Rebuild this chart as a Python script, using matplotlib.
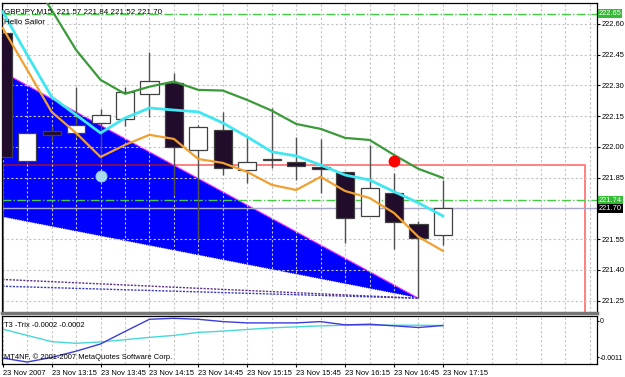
import numpy as np
import matplotlib
matplotlib.use("Agg")
import matplotlib.pyplot as plt
from matplotlib import transforms

plt.rcParams['font.family'] = ['Liberation Sans', 'DejaVu Sans']

# ===== data =====
bars = np.arange(19)
opens  = [222.556, 221.929, 222.080, 222.070, 222.118, 222.136, 222.256, 222.312, 221.985, 222.083,
          221.888, 221.938, 221.927, 221.900, 221.880, 221.665, 221.777, 221.624, 221.57]
highs  = [222.556, 222.075, 222.100, 222.294, 222.185, 222.294, 222.462, 222.360, 222.107, 222.172,
          222.042, 222.190, 222.050, 222.037, 221.880, 222.010, 221.872, 221.640, 221.84]
lows   = [221.950, 221.920, 222.030, 222.050, 221.920, 222.100, 222.148, 221.766, 221.546, 221.863,
          221.826, 221.896, 221.839, 221.774, 221.533, 221.665, 221.500, 221.262, 221.52]
closes = [221.950, 222.067, 222.056, 222.107, 222.156, 222.270, 222.320, 221.998, 222.096, 221.896,
          221.927, 221.942, 221.907, 221.890, 221.652, 221.798, 221.636, 221.555, 221.70]

ma_green  = [223.010, 222.854, 222.668, 222.473, 222.327, 222.259, 222.294, 222.319, 222.278, 222.275,
             222.229, 222.177, 222.112, 222.088, 222.044, 222.034, 221.961, 221.893, 221.849]
ma_cyan   = [222.659, 222.449, 222.244, 222.156, 222.068, 222.141, 222.190, 222.180, 222.171, 222.117,
             222.049, 221.976, 221.956, 221.912, 221.863, 221.839, 221.782, 221.727, 221.663]
ma_orange = [222.580, 222.376, 222.171, 222.068, 221.951, 222.010, 222.059, 222.039, 221.941, 221.922,
             221.878, 221.815, 221.790, 221.854, 221.785, 221.751, 221.678, 221.561, 221.493]

# triangle object (left anchors are off-chart at bar -1)
tri_x = [-1, 17, -1]
tri_p = [222.430, 221.262, 221.681]
# two dotted trend lines to the apex
trend1_p = [221.359, 221.262]
trend2_p = [221.324, 221.262]
trend_x = [-1, 17]

rect_x = [0, 23.82]
rect_top = 221.91
rect_bottom = 221.0

red_dot = (16, 221.932)
blue_dot = (4, 221.858)

level_hi = 222.65
level_lo = 221.74
bid = 221.70

t3_blue = [-0.00113, -0.00125, -0.00111, -0.00092, -0.00070, -0.00032, 0.00005, 0.00008, 0.00005, -0.00002,
           -0.00006, -0.00006, -0.00006, -0.00002, -0.00012, -0.00010, -0.00015, -0.00020, -0.00014]
t3_cyan = [-0.00025, -0.00044, -0.00063, -0.00068, -0.00064, -0.00057, -0.00050, -0.00044, -0.00035, -0.00031,
           -0.00026, -0.00021, -0.00018, -0.00015, -0.00013, -0.00013, -0.00013, -0.00013, -0.00014]

price_ticks = [221.25, 221.40, 221.55, 221.70, 221.85, 222.00, 222.15, 222.30, 222.45, 222.60]
time_labels = ['23 Nov 2007', '23 Nov 13:15', '23 Nov 13:45', '23 Nov 14:15', '23 Nov 14:45',
               '23 Nov 15:15', '23 Nov 15:45', '23 Nov 16:15', '23 Nov 16:45', '23 Nov 17:15']

# ===== figure =====
fig = plt.figure(figsize=(6.25, 3.77), dpi=100)
ax = fig.add_axes([2/625, 1 - 313/377, 595/625, 310/377])
sub = fig.add_axes([2/625, 1 - 364/377, 595/625, 48/377])

xlim = (-0.03, 24.3)
fs = 5.4

ax.set_xlim(*xlim)
ax.set_ylim(221.19, 222.702)
ax.set_axisbelow('line')
ax.set_xticks(np.arange(0, 25))
ax.set_yticks(price_ticks)
ax.yaxis.tick_right()
ax.set_yticklabels(['%.2f' % v if abs(v - bid) > 1e-6 else '' for v in price_ticks], fontsize=fs)
ax.tick_params(axis='x', length=0, labelbottom=False)
ax.tick_params(axis='y', length=2.5, width=0.8, pad=1, direction='out')
ax.grid(True, color='#c4c4c4', linestyle=(0, (2, 2)), linewidth=0.8)
for s in ax.spines.values():
    s.set_color('black')
    s.set_linewidth(0.9)
ax.spines['bottom'].set_color('#777777')
ax.spines['bottom'].set_linewidth(2.5)

# triangle + trend lines
tri = ax.fill(tri_x, tri_p, color='#0000ff', zorder=1, lw=0)[0]
ax.plot(tri_x[:2], tri_p[:2], color='#ff33ff', lw=0.8, zorder=1.2)
ax.plot(tri_x[1:], tri_p[1:], color='white', lw=0.8, ls=(0, (1, 1)), zorder=1.2)
ax.plot(trend_x, trend1_p, color='#5a2d8a', lw=1, ls=(0, (1.5, 1)), zorder=1.6)
ax.plot(trend_x, trend2_p, color='#3535c8', lw=1, ls=(0, (1.5, 1)), zorder=1.6)

# rectangle (darker where it crosses the blue object)
ax.plot([rect_x[0], rect_x[1], rect_x[1]], [rect_top, rect_top, rect_bottom], color='#ff8080', lw=1.4, zorder=0.9)
dark = ax.plot(rect_x, [rect_top, rect_top], color='#7a1060', lw=1.4, zorder=1.1)[0]
dark.set_clip_path(tri)
ax.plot([rect_x[0], rect_x[0]], [rect_top, rect_bottom], color='#e02020', lw=1.2, zorder=1.7)

# horizontal levels
ax.axhline(level_hi, color='#44cc44', lw=1, ls='-.', zorder=1.8)
ax.axhline(level_lo, color='#44cc44', lw=1, ls='-.', zorder=1.8)
ax.axhline(bid, color='#a8a8c8', lw=1, zorder=1.8)

# candles
for x, o, h, l, c in zip(bars, opens, highs, lows, closes):
    ax.vlines(x, l, h, color='#505050', lw=1, zorder=2.5)
    fill = 'white' if c >= o else '#220c2c'
    ax.bar(x, max(abs(c - o), 0.003), bottom=min(o, c), width=0.74, color=fill,
           edgecolor='#404040', linewidth=0.9, zorder=3)

# moving averages
ax.plot(bars, ma_green, color='#3a9a3a', lw=1.6, zorder=4)
ax.plot(bars, ma_cyan, color='#40e6f0', lw=2, zorder=4)
ax.plot(bars, ma_orange, color='#f0a030', lw=1.6, zorder=4)

# dots
ax.plot(*red_dot, 'o', color='#ff0000', ms=8.5, mec='none', zorder=5)
ax.plot(*blue_dot, 'o', color='#a8dcea', ms=8, mec='#8ccadc', mew=0.6, zorder=5)

# level boxes on the price axis
tr = transforms.blended_transform_factory(ax.transAxes, ax.transData)
for val, bg in [(level_hi, '#33bb33'), (level_lo, '#33bb33'), (bid, '#000000')]:
    ax.text(1.003, val, '%.2f' % val, transform=tr, fontsize=fs, color='white', va='center', ha='left',
            bbox=dict(facecolor=bg, edgecolor='none', pad=0.6), clip_on=False, zorder=6)

ax.text(0.004, 0.985, 'GBPJPY,M15  221.57 221.84 221.52 221.70', transform=ax.transAxes,
        fontsize=fs + 0.4, va='top', ha='left', zorder=6)
ax.text(0.004, 0.95, 'Hello Sailor', transform=ax.transAxes, fontsize=fs + 0.4, va='top', ha='left', zorder=6)

# ===== sub window =====
sub.set_xlim(*xlim)
sub.set_ylim(-0.00131, 0.00015)
sub.set_axisbelow('line')
sub.set_xticks(np.arange(0, 19, 2))
sub.set_xticklabels(time_labels, fontsize=fs, ha='left')
sub.set_xticks(np.arange(0, 25), minor=True)
sub.set_yticks([-0.0011, 0])
sub.set_yticklabels(['-0.0011', '0'], fontsize=5.0)
sub.yaxis.tick_right()
sub.tick_params(axis='x', which='major', length=2.5, pad=1.5)
sub.tick_params(axis='x', which='minor', length=0)
sub.tick_params(axis='y', length=1.5, pad=0.5)
sub.grid(True, which='both', axis='x', color='#c4c4c4', linestyle=(0, (2, 2)), linewidth=0.8)
for s in sub.spines.values():
    s.set_color('black')
    s.set_linewidth(0.9)

sub.plot(bars, t3_cyan, color='#48d8d8', lw=1)
sub.plot(bars, t3_blue, color='#3c3cdc', lw=1)
sub.text(0.004, 0.88, 'T3 -Trix -0.0002 -0.0002', transform=sub.transAxes, fontsize=fs, va='top', ha='left')
sub.text(0.004, 0.06, 'MT4NF, \u00a9 2001-2007 MetaQuotes Software Corp.', transform=sub.transAxes,
         fontsize=fs, va='bottom', ha='left')

fig.savefig('out.png', dpi=100)
